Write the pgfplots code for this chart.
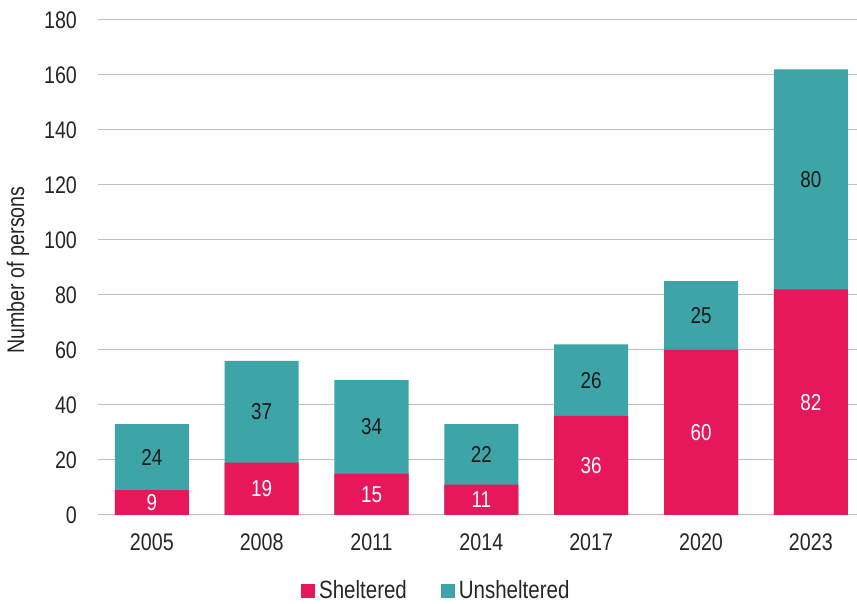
\documentclass[border=0pt]{standalone}
\usepackage{fontspec}
\setmainfont{Liberation Sans}[FakeStretch=0.82]
\usepackage{pgfplots}
\usepackage{pgfplotstable}
\pgfplotsset{compat=1.18}
\definecolor{shel}{HTML}{E6185A}
\definecolor{unshel}{HTML}{3DA5A7}
\pgfplotstableread{
x s u
0 9 24
1 19 37
2 15 34
3 11 22
4 36 26
5 60 25
6 82 80
}\datatable
\begin{document}
\begin{tikzpicture}
\useasboundingbox (0,0) rectangle (428.5pt,302pt);
\begin{axis}[
  at={(49pt,44.5pt)}, anchor=south west,
  scale only axis, width=379.5pt, height=247.5pt,
  xmin=-0.49, xmax=6.42, ymin=0, ymax=180,
  ytick={0,20,...,180},
  xtick={0,...,6},
  xticklabels={2005,2008,2011,2014,2017,2020,2023},
  axis line style={draw=none}, major tick length=0pt,
  ymajorgrids, grid style={black!25, line width=0.5pt},
  /pgf/number format/assume math mode=true,
  tick label style={font=\fontsize{12}{14}\selectfont, text=black!85},
  xticklabel style={yshift=-6pt},
  yticklabel style={xshift=-7pt},
  ylabel={Number of persons},
  ylabel style={at={(axis description cs:-0.1054,0.495)}, anchor=center, font=\fontsize{12}{14}\selectfont, text=black!85},
  legend style={at={(axis description cs:0.447,-0.153)}, anchor=center, draw=none, fill=none,
    font=\fontsize{12.5}{14}\selectfont, text=black!85, legend columns=2,
    /tikz/every even column/.append style={column sep=15pt}, inner sep=0pt},
  legend cell align=left,
]
\addplot[ybar, bar width=0.674, bar shift=0pt, fill=unshel, draw=none, forget plot]
  table[x=x, y expr=\thisrow{s}+\thisrow{u}] {\datatable};
\addplot[ybar, bar width=0.674, bar shift=0pt, fill=shel, draw=none, forget plot]
  table[x=x, y=s] {\datatable};
\addplot[only marks, mark=none, forget plot, point meta=explicit symbolic,
  nodes near coords, nodes near coords style={anchor=center, text=white, font=\fontsize{11.5}{13}\selectfont}]
  table[x=x, y expr=\thisrow{s}/2, meta=s] {\datatable};
\addplot[only marks, mark=none, forget plot, point meta=explicit symbolic,
  nodes near coords, nodes near coords style={anchor=center, text=black!90, font=\fontsize{11.5}{13}\selectfont}]
  table[x=x, y expr=\thisrow{s}+\thisrow{u}/2, meta=u] {\datatable};
\addlegendimage{legend image code/.code={\fill[shel] (0pt,-3.3pt) rectangle (6.6pt,3.3pt);}}
\addlegendentry{Sheltered}
\addlegendimage{legend image code/.code={\fill[unshel] (0pt,-3.3pt) rectangle (6.6pt,3.3pt);}}
\addlegendentry{Unsheltered}
\end{axis}
\end{tikzpicture}
\end{document}
